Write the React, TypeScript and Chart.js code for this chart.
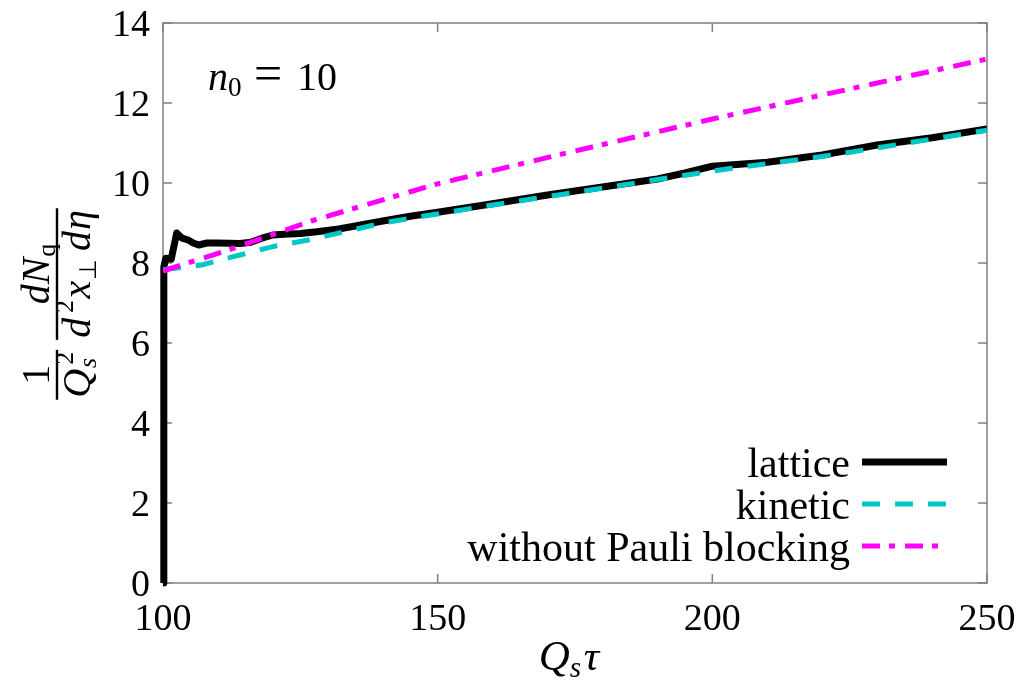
import React, { useEffect, useRef } from 'react';
import { Chart, registerables } from 'chart.js';

Chart.register(...registerables);

// ---- data ----
const latticeX = [100, 100.15, 100.5, 101.5, 102.5, 103.5, 104.5, 105.5, 106.5, 108, 110, 114, 116, 118, 120, 122, 125, 128, 132, 136, 140, 145, 150, 160, 170, 180, 190, 195, 200, 210, 220, 230, 240, 250];
const latticeY = [0, 7.9, 8.12, 8.1, 8.75, 8.62, 8.58, 8.5, 8.45, 8.5, 8.5, 8.49, 8.52, 8.62, 8.7, 8.72, 8.74, 8.78, 8.85, 8.95, 9.05, 9.17, 9.27, 9.48, 9.7, 9.9, 10.1, 10.25, 10.42, 10.52, 10.7, 10.95, 11.13, 11.35];

const kineticX = [100, 107, 114, 120, 127, 133, 140, 147, 160, 180, 200, 222, 250];
const kineticY = [7.83, 7.95, 8.2, 8.41, 8.59, 8.78, 9.0, 9.16, 9.45, 9.87, 10.3, 10.7, 11.32];

const noPauliX = [100, 112, 127, 143, 150, 175, 200, 225, 250];
const noPauliY = [7.8, 8.33, 9.05, 9.7, 9.98, 10.8, 11.6, 12.35, 13.1];

const seriesLabels = ['lattice', 'kinetic', 'without Pauli blocking'];
const xTicks = [100, 150, 200, 250];
const yTicks = [0, 2, 4, 6, 8, 10, 12, 14];

const SERIF = '"Liberation Serif", "Times New Roman", serif';
const FRAME = '#808080';

type Piece = { t: string; it?: boolean; sc?: number; dy?: number; nx?: boolean; kern?: number };

function fnt(size: number, it?: boolean) {
  return `${it ? 'italic ' : ''}${size}px ${SERIF}`;
}

function piecesWidth(ctx: CanvasRenderingContext2D, ps: Piece[], size: number) {
  let w = 0;
  for (const p of ps) {
    ctx.font = fnt(size * (p.sc ?? 1), p.it);
    const pw = ctx.measureText(p.t).width;
    w += (p.kern ?? 0) * size;
    if (!p.nx) w += pw;
  }
  return w;
}

function drawPieces(ctx: CanvasRenderingContext2D, ps: Piece[], x: number, y: number, size: number) {
  let cx = x;
  ctx.textAlign = 'left';
  ctx.textBaseline = 'alphabetic';
  for (const p of ps) {
    ctx.font = fnt(size * (p.sc ?? 1), p.it);
    cx += (p.kern ?? 0) * size;
    ctx.fillText(p.t, cx, y + (p.dy ?? 0) * size);
    if (!p.nx) cx += ctx.measureText(p.t).width;
  }
}

const decorPlugin = {
  id: 'decor',
  beforeDatasetsDraw(chart: any) {
    const { ctx, chartArea: a, scales } = chart;
    const xs = scales.x;
    const ys = scales.y;
    ctx.save();
    ctx.strokeStyle = FRAME;
    ctx.lineWidth = 1.5;
    ctx.strokeRect(a.left, a.top, a.right - a.left, a.bottom - a.top);
    const tl = 9;
    ctx.beginPath();
    for (const v of xTicks) {
      const px = xs.getPixelForValue(v);
      ctx.moveTo(px, a.bottom);
      ctx.lineTo(px, a.bottom - tl);
      ctx.moveTo(px, a.top);
      ctx.lineTo(px, a.top + tl);
    }
    for (const v of yTicks) {
      const py = ys.getPixelForValue(v);
      ctx.moveTo(a.left, py);
      ctx.lineTo(a.left + tl, py);
      ctx.moveTo(a.right, py);
      ctx.lineTo(a.right - tl, py);
    }
    ctx.stroke();

    // tick labels
    ctx.fillStyle = '#000';
    ctx.font = fnt(38);
    ctx.textBaseline = 'alphabetic';
    ctx.textAlign = 'center';
    for (const v of xTicks) {
      ctx.fillText(String(v), xs.getPixelForValue(v), a.bottom + 47);
    }
    ctx.textAlign = 'right';
    for (const v of yTicks) {
      ctx.fillText(String(v), a.left - 13, ys.getPixelForValue(v) + 13);
    }
    ctx.restore();
  },
  afterDraw(chart: any) {
    const { ctx, chartArea: a } = chart;
    ctx.save();
    ctx.fillStyle = '#000';
    const M = 40;

    // x-axis title  Q_s tau
    const XM = 43;
    const xt: Piece[] = [
      { t: 'Q', it: true },
      { t: 's', it: true, sc: 0.68, dy: 0.16 },
      { t: 'τ', it: true, kern: 0.06 },
    ];
    const xw = piecesWidth(ctx, xt, XM);
    drawPieces(ctx, xt, (a.left + a.right) / 2 - 6 - xw / 2, 670, XM);

    // n_0 = 10 annotation
    drawPieces(ctx, [{ t: 'n', it: true }, { t: '0', sc: 0.68, dy: 0.16 }], 208, 90, M);
    ctx.font = fnt(M * 1.25);
    ctx.textAlign = 'center';
    ctx.fillText('=', 268, 90);
    ctx.font = fnt(M);
    ctx.textAlign = 'left';
    ctx.fillText('10', 297, 90);

    // y-axis title (rotated)
    const n1: Piece[] = [{ t: '1' }];
    const d1: Piece[] = [
      { t: 'Q', it: true },
      { t: 's', it: true, sc: 0.65, dy: 0.14, nx: true, kern: 0.02 },
      { t: '2', sc: 0.65, dy: -0.42, kern: 0.08 },
    ];
    const n2: Piece[] = [
      { t: 'd', it: true },
      { t: 'N', it: true },
      { t: 'q', sc: 0.65, dy: 0.16, kern: 0.02 },
    ];
    const d2: Piece[] = [
      { t: 'd', it: true },
      { t: '2', sc: 0.65, dy: -0.42, kern: 0.12 },
      { t: 'x', it: true, kern: 0.04 },
      { t: '⊥', sc: 0.6, dy: 0.16, kern: 0.02 },
      { t: 'd', it: true, kern: 0.2 },
      { t: 'η', it: true, kern: 0.02 },
    ];
    const wn1 = piecesWidth(ctx, n1, M);
    const wd1 = piecesWidth(ctx, d1, M);
    const wn2 = piecesWidth(ctx, n2, M);
    const wd2 = piecesWidth(ctx, d2, M);
    const w1 = Math.max(wn1, wd1) + 4;
    const w2 = Math.max(wn2, wd2) + 4;
    const gap = 10;
    const total = w1 + gap + w2;
    ctx.translate(57, 304 + total / 2);
    ctx.rotate(-Math.PI / 2);
    ctx.fillRect(0, -1.2, w1, 2.4);
    ctx.fillRect(w1 + gap, -1.2, w2, 2.4);
    drawPieces(ctx, n1, (w1 - wn1) / 2, -8, M);
    drawPieces(ctx, d1, (w1 - wd1) / 2, 33, M);
    drawPieces(ctx, n2, w1 + gap + (w2 - wn2) / 2, -8, M);
    drawPieces(ctx, d2, w1 + gap + (w2 - wd2) / 2, 33, M);
    ctx.restore();

    // legend
    ctx.save();
    const rows = [462, 504, 546];
    chart.data.datasets.forEach((ds: any, i: number) => {
      const y = rows[i];
      ctx.fillStyle = '#000';
      ctx.font = fnt(42);
      ctx.textAlign = 'right';
      ctx.textBaseline = 'alphabetic';
      ctx.fillText(ds.label, 850, y + 15);
      ctx.strokeStyle = ds.borderColor;
      ctx.lineWidth = ds.borderWidth;
      ctx.lineCap = 'butt';
      ctx.setLineDash(ds.borderDash || []);
      ctx.beginPath();
      ctx.moveTo(862, y);
      ctx.lineTo(947, y);
      ctx.stroke();
    });
    ctx.restore();
  },
};

export default function App() {
  const ref = useRef<HTMLCanvasElement | null>(null);

  useEffect(() => {
    if (!ref.current) return;
    const pts = (xs: number[], ys: number[]) => xs.map((x, i) => ({ x, y: ys[i] }));
    const chart = new Chart(ref.current, {
      type: 'line',
      data: {
        datasets: [
          {
            label: seriesLabels[0],
            data: pts(latticeX, latticeY),
            borderColor: '#000000',
            borderWidth: 7,
            pointRadius: 0,
            tension: 0,
            borderJoinStyle: 'round',
            order: 3,
            clip: { left: 4, bottom: 4, right: 0, top: 0 },
          } as any,
          {
            label: seriesLabels[1],
            data: pts(kineticX, kineticY),
            borderColor: '#00c8c8',
            borderWidth: 5,
            borderDash: [18, 15],
            pointRadius: 0,
            tension: 0,
            order: 2,
            clip: 0,
          } as any,
          {
            label: seriesLabels[2],
            data: pts(noPauliX, noPauliY),
            borderColor: '#ff00ff',
            borderWidth: 5,
            borderDash: [18, 9, 6, 10],
            pointRadius: 0,
            tension: 0,
            order: 1,
            clip: 0,
          } as any,
        ],
      },
      options: {
        animation: false,
        responsive: true,
        maintainAspectRatio: false,
        layout: { padding: { left: 0, right: 30, top: 23, bottom: 0 } },
        plugins: { legend: { display: false }, tooltip: { enabled: false } },
        events: [],
        scales: {
          x: {
            type: 'linear',
            min: 100,
            max: 250,
            grid: { display: false, drawTicks: false },
            border: { display: false },
            afterBuildTicks: (s: any) => { s.ticks = xTicks.map((v) => ({ value: v })); },
            afterFit: (s: any) => { s.height = 97; },
            ticks: { display: false },
          },
          y: {
            type: 'linear',
            min: 0,
            max: 14,
            grid: { display: false, drawTicks: false },
            border: { display: false },
            afterBuildTicks: (s: any) => { s.ticks = yTicks.map((v) => ({ value: v })); },
            afterFit: (s: any) => { s.width = 163; },
            ticks: { display: false },
          },
        },
      },
      plugins: [decorPlugin],
    });
    return () => chart.destroy();
  }, []);

  return (
    <div style={{ position: 'absolute', left: 0, top: 0, width: 1017, height: 680, background: '#fff' }}>
      <canvas ref={ref} />
    </div>
  );
}
